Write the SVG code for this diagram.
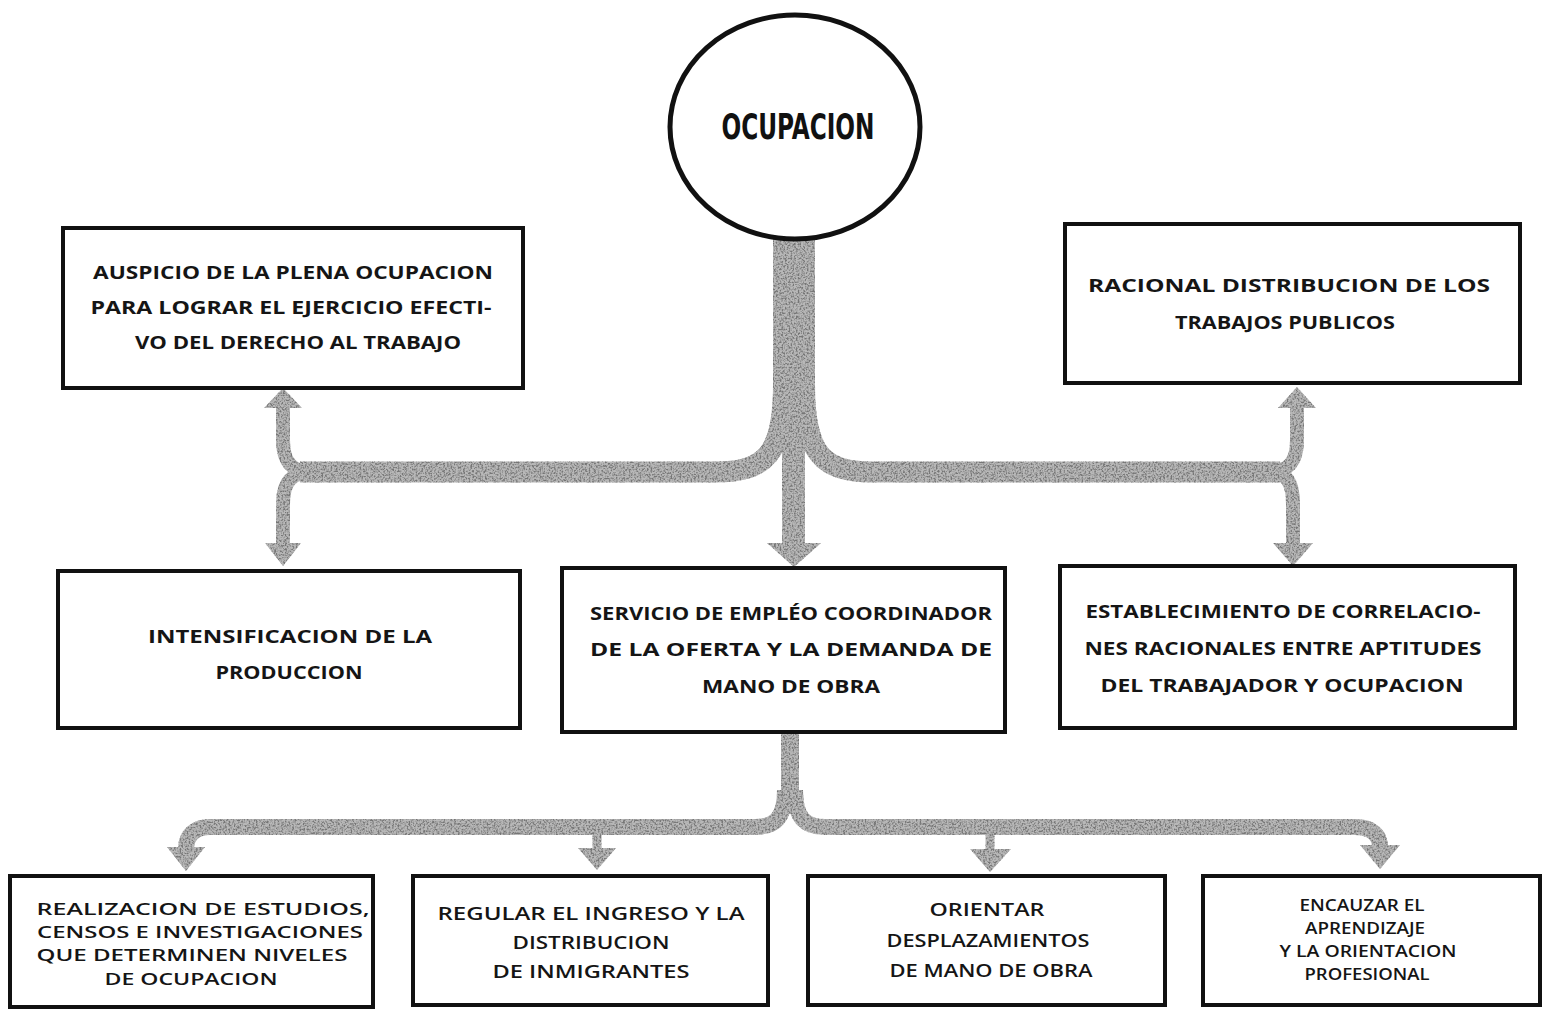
<svg xmlns="http://www.w3.org/2000/svg" width="1546" height="1010" viewBox="0 0 1546 1010">
<defs>
<filter id="grain" x="-5%" y="-5%" width="110%" height="110%">
<feTurbulence type="fractalNoise" baseFrequency="0.55" numOctaves="2" seed="4" result="noise"/>
<feColorMatrix in="noise" type="matrix" values="0 0 0 0 0.18  0 0 0 0 0.18  0 0 0 0 0.18  3.4 0 0 0 -1.4" result="dark"/>
<feComposite in="dark" in2="SourceGraphic" operator="in" result="darkIn"/>
<feMerge><feMergeNode in="SourceGraphic"/><feMergeNode in="darkIn"/></feMerge>
</filter>
<style>
.box{fill:#fff;stroke:#111;stroke-width:4}
.band{fill:none;stroke:#b8b8b8;stroke-linecap:butt}
.head{fill:#b8b8b8}
.t{font-family:"Open Sans","Liberation Sans",sans-serif;font-weight:700;font-size:17px;fill:#151515;text-anchor:middle}
.b{font-family:"Open Sans","Liberation Sans",sans-serif;font-weight:600;font-size:18.5px;fill:#151515;text-anchor:middle}
.s{font-size:17px}
</style>
</defs>
<rect width="1546" height="1010" fill="#fff"/>

<g id="connectors" filter="url(#grain)">
<rect x="773" y="236" width="42" height="160" fill="#b8b8b8"/>
<path class="band" stroke-width="21" d="M783.5 385 C783.5 455 765 472 715 472 L300 472"/>
<path class="band" stroke-width="21" d="M804.5 385 C804.5 455 823 472 873 472 L1280 472"/>
<line class="band" stroke-width="23" x1="793.5" y1="395" x2="793.5" y2="545"/>
<polygon class="head" points="767,543 821,543 794,567"/>
<path class="band" stroke-width="14" d="M312 472 C291 472 283 462 283 440 L283 406"/>
<path class="band" stroke-width="14" d="M312 472 C291 472 283 482 283 504 L283 545"/>
<polygon class="head" points="264,408 302,408 283,388"/>
<polygon class="head" points="265,543 301,543 283,566"/>
<path class="band" stroke-width="14" d="M1268 472 C1289 472 1297 462 1297 440 L1297 406"/>
<path class="band" stroke-width="14" d="M1268 472 C1287 472 1293 482 1293 504 L1293 545"/>
<polygon class="head" points="1278,408 1316,408 1297,387"/>
<polygon class="head" points="1273,543 1313,543 1293,566"/>
<line class="band" stroke-width="18" x1="790" y1="730" x2="790" y2="800"/>
<path class="band" stroke-width="16" d="M785 790 C785 818 775 827 755 827 L210 827 C195 827 186 835 186 849"/>
<path class="band" stroke-width="16" d="M795 790 C795 818 805 827 825 827 L1355 827 C1372 827 1380 835 1380 847"/>
<polygon class="head" points="167,847 205,847 186,871"/>
<polygon class="head" points="1360,845 1400,845 1380,869"/>
<line class="band" stroke-width="9" x1="597" y1="830" x2="597" y2="850"/>
<polygon class="head" points="578,848 616,848 597,870"/>
<line class="band" stroke-width="9" x1="990" y1="830" x2="990" y2="851"/>
<polygon class="head" points="970,849 1011,849 990,872"/>
</g>

<g id="ocupacion">
<ellipse cx="795" cy="127" rx="125" ry="112" fill="#fff" stroke="#111" stroke-width="5"/>
<text x="798" y="139" font-family="Liberation Sans Narrow,DejaVu Sans Condensed,sans-serif" font-weight="bold" font-size="35" fill="#111" text-anchor="middle" textLength="153" lengthAdjust="spacingAndGlyphs">OCUPACION</text>
</g>

<g id="auspicio">
<rect class="box" x="63" y="228" width="460" height="160"/>
<text class="t" x="293" y="279" textLength="400" lengthAdjust="spacingAndGlyphs">AUSPICIO DE LA PLENA OCUPACION</text>
<text class="t" x="291" y="314" textLength="401" lengthAdjust="spacingAndGlyphs">PARA LOGRAR EL EJERCICIO EFECTI-</text>
<text class="t" x="298" y="349" textLength="326" lengthAdjust="spacingAndGlyphs">VO DEL DERECHO AL TRABAJO</text>
</g>

<g id="racional">
<rect class="box" x="1065" y="224" width="455" height="159"/>
<text class="t" x="1289" y="292" textLength="402" lengthAdjust="spacingAndGlyphs">RACIONAL  DISTRIBUCION  DE  LOS</text>
<text class="t" x="1285" y="329" textLength="220" lengthAdjust="spacingAndGlyphs">TRABAJOS PUBLICOS</text>
</g>

<g id="intensificacion">
<rect class="box" x="58" y="571" width="462" height="157"/>
<text class="t" x="290" y="643" textLength="284" lengthAdjust="spacingAndGlyphs">INTENSIFICACION  DE  LA</text>
<text class="t" x="289" y="679" textLength="147" lengthAdjust="spacingAndGlyphs">PRODUCCION</text>
</g>

<g id="servicio">
<rect class="box" x="562" y="568" width="443" height="164"/>
<text class="t" x="791" y="620" textLength="402" lengthAdjust="spacingAndGlyphs">SERVICIO DE EMPLÉO COORDINADOR</text>
<text class="t" x="791" y="656" textLength="402" lengthAdjust="spacingAndGlyphs">DE LA OFERTA Y LA DEMANDA DE</text>
<text class="t" x="791" y="693" textLength="178" lengthAdjust="spacingAndGlyphs">MANO DE OBRA</text>
</g>

<g id="establecimiento">
<rect class="box" x="1060" y="566" width="455" height="162"/>
<text class="t" x="1283" y="618" textLength="395" lengthAdjust="spacingAndGlyphs">ESTABLECIMIENTO DE CORRELACIO-</text>
<text class="t" x="1283" y="655" textLength="397" lengthAdjust="spacingAndGlyphs">NES RACIONALES ENTRE APTITUDES</text>
<text class="t" x="1282" y="692" textLength="363" lengthAdjust="spacingAndGlyphs">DEL TRABAJADOR Y OCUPACION</text>
</g>

<g id="realizacion">
<rect class="box" x="10" y="876" width="363" height="131"/>
<text class="b s" x="203" y="915" textLength="333" lengthAdjust="spacingAndGlyphs">REALIZACION DE ESTUDIOS,</text>
<text class="b s" x="200" y="938" textLength="326" lengthAdjust="spacingAndGlyphs">CENSOS E INVESTIGACIONES</text>
<text class="b s" x="192" y="961" textLength="311" lengthAdjust="spacingAndGlyphs">QUE DETERMINEN NIVELES</text>
<text class="b s" x="191" y="985" textLength="173" lengthAdjust="spacingAndGlyphs">DE OCUPACION</text>
</g>

<g id="regular">
<rect class="box" x="413" y="876" width="355" height="129"/>
<text class="b" x="591" y="920" textLength="307" lengthAdjust="spacingAndGlyphs">REGULAR EL INGRESO Y LA</text>
<text class="b" x="591" y="949" textLength="157" lengthAdjust="spacingAndGlyphs">DISTRIBUCION</text>
<text class="b" x="591" y="978" textLength="197" lengthAdjust="spacingAndGlyphs">DE INMIGRANTES</text>
</g>

<g id="orientar">
<rect class="box" x="808" y="876" width="357" height="129"/>
<text class="b" x="987" y="916" textLength="115" lengthAdjust="spacingAndGlyphs">ORIENTAR</text>
<text class="b" x="988" y="947" textLength="203" lengthAdjust="spacingAndGlyphs">DESPLAZAMIENTOS</text>
<text class="b" x="991" y="977" textLength="203" lengthAdjust="spacingAndGlyphs">DE MANO DE OBRA</text>
</g>

<g id="encauzar">
<rect class="box" x="1203" y="876" width="337" height="129"/>
<text class="b s" x="1362" y="911" textLength="125" lengthAdjust="spacingAndGlyphs">ENCAUZAR EL</text>
<text class="b s" x="1365" y="934" textLength="120" lengthAdjust="spacingAndGlyphs">APRENDIZAJE</text>
<text class="b s" x="1368" y="957" textLength="177" lengthAdjust="spacingAndGlyphs">Y LA ORIENTACION</text>
<text class="b s" x="1367" y="980" textLength="125" lengthAdjust="spacingAndGlyphs">PROFESIONAL</text>
</g>
</svg>
